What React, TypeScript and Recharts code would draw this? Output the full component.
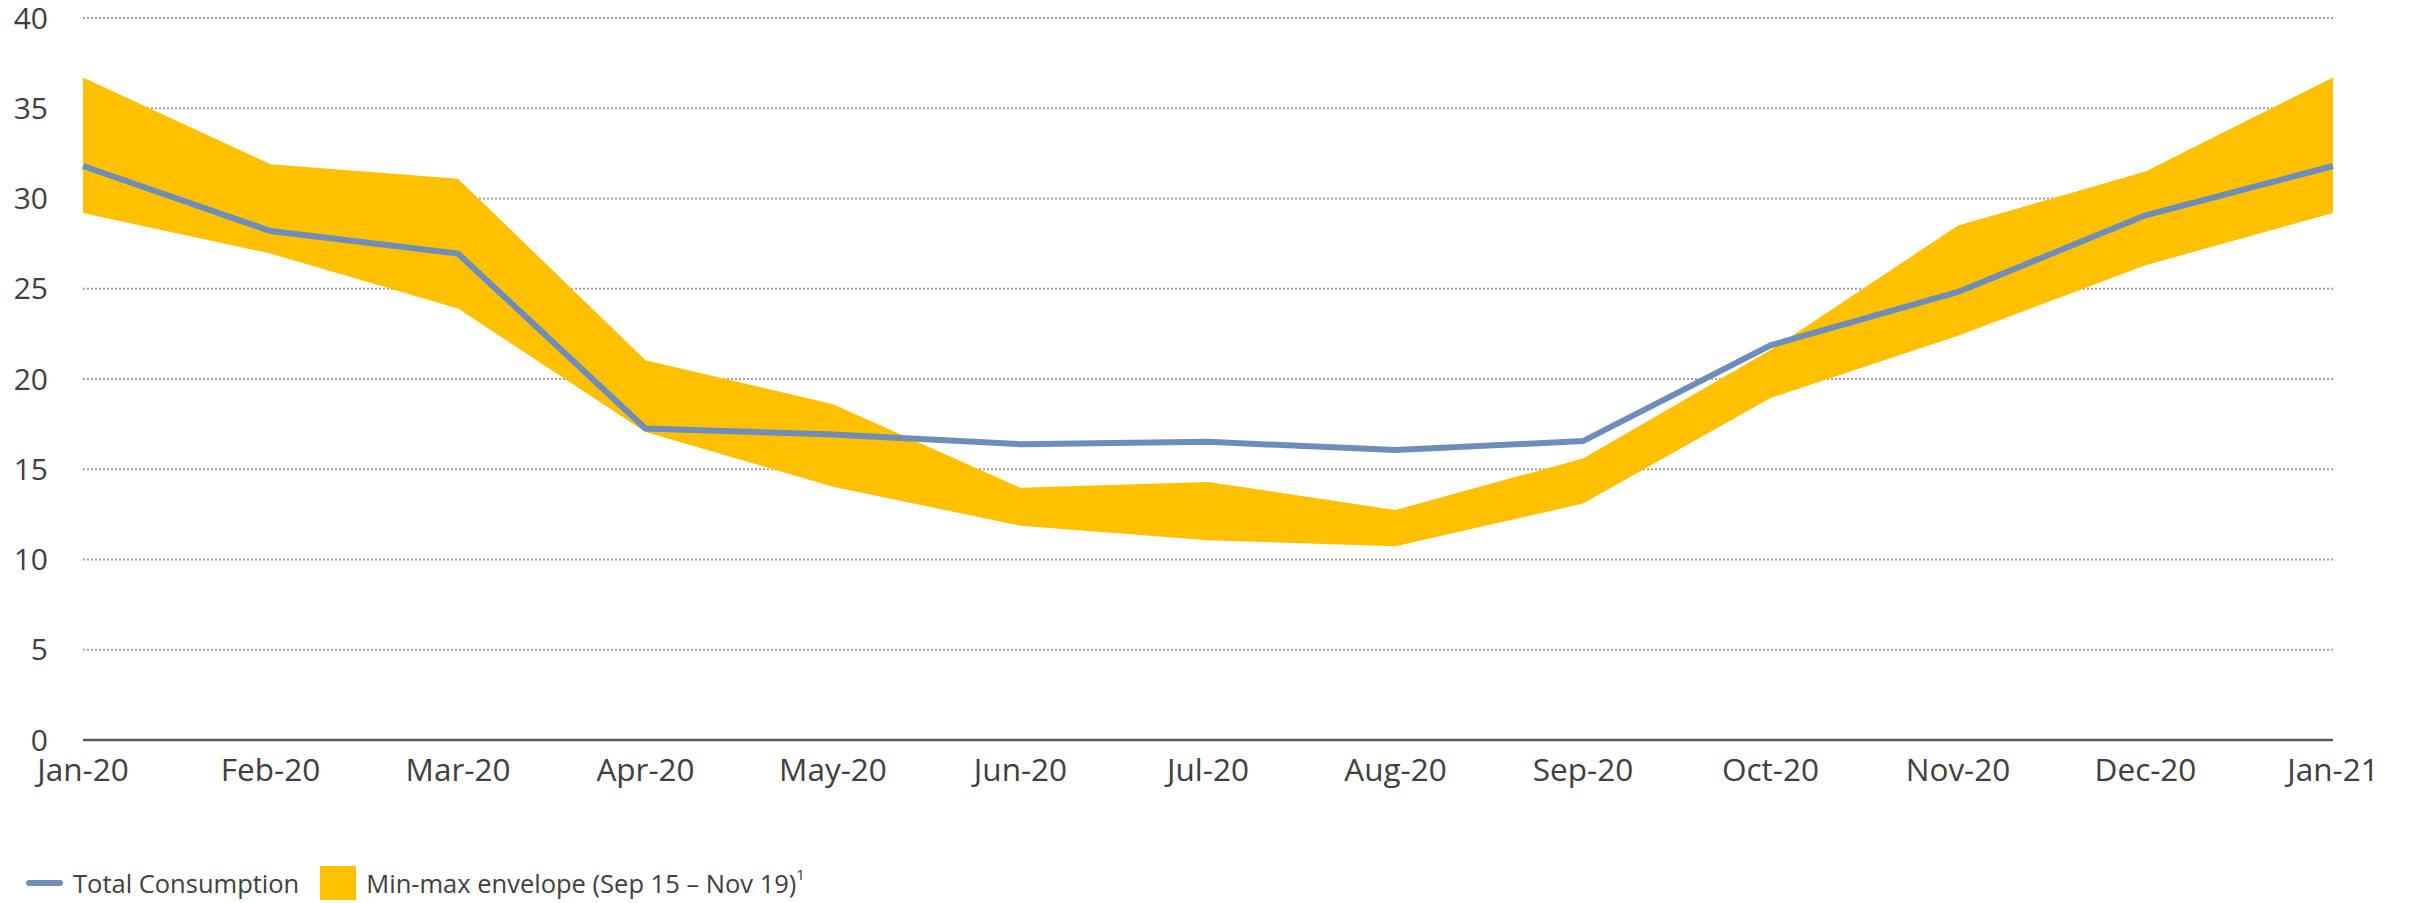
import React from 'react';
import { ComposedChart, Area, Line, XAxis, YAxis, CartesianGrid, Legend } from 'recharts';

const months = ['Jan-20', 'Feb-20', 'Mar-20', 'Apr-20', 'May-20', 'Jun-20', 'Jul-20', 'Aug-20', 'Sep-20', 'Oct-20', 'Nov-20', 'Dec-20', 'Jan-21'];
const totalConsumption = [31.8, 28.2, 26.95, 17.26, 16.93, 16.39, 16.52, 16.06, 16.56, 21.87, 24.82, 29.07, 31.8];
const envelopeMax = [36.7, 31.9, 31.1, 21.04, 18.6, 13.97, 14.3, 12.74, 15.6, 21.6, 28.5, 31.5, 36.7];
const envelopeMin = [29.2, 26.95, 23.9, 17.07, 14.03, 11.87, 11.07, 10.74, 13.1, 18.95, 22.4, 26.3, 29.2];
const yTicks = [0, 5, 10, 15, 20, 25, 30, 35, 40];

const lineName = 'Total Consumption';
const bandName = 'Min-max envelope (Sep 15 \u2013 Nov 19)';

const data = months.map((m, i) => ({
  month: m,
  total: totalConsumption[i],
  range: [envelopeMin[i], envelopeMax[i]],
}));

const FONT = '"Open Sans", "Noto Sans", sans-serif';
const TEXT = '#404040';
const LINE = '#6F8DBA';
const BAND = '#FFC000';

const LegendContent = () => (
  <div style={{ display: 'flex', alignItems: 'center', fontFamily: FONT, fontSize: 25.5, color: TEXT, whiteSpace: 'nowrap' }}>
    <span style={{ display: 'inline-block', width: 37, height: 6, borderRadius: 3, background: LINE, marginLeft: 26, marginRight: 10 }} />
    <span>{lineName}</span>
    <span style={{ display: 'inline-block', width: 36, height: 34, background: BAND, marginLeft: 21, marginRight: 10 }} />
    <span>{bandName}<sup style={{ fontSize: 15, verticalAlign: 'top', position: 'relative', top: -2 }}>1</sup></span>
  </div>
);

export default function App() {
  return (
    <div style={{ position: 'absolute', left: 0, top: 0, width: 2409, height: 903, background: '#fff' }}>
      <ComposedChart
        width={2409}
        height={903}
        data={data}
        margin={{ top: 18, right: 76, left: 0, bottom: 113 }}
      >
        <Area
          type="linear"
          dataKey="range"
          name={bandName}
          fill={BAND}
          fillOpacity={1}
          stroke="none"
          isAnimationActive={false}
          activeDot={false}
        />
        <CartesianGrid
          vertical={false}
          stroke="#A0A0A0"
          strokeWidth={2}
          strokeDasharray="2 2"
        />
        <XAxis
          dataKey="month"
          scale="point"
          height={50}
          tickLine={false}
          tickSize={0}
          tickMargin={19}
          axisLine={{ stroke: '#595959', strokeWidth: 2.5 }}
          tick={{ fill: TEXT, fontSize: 31.5, fontFamily: FONT }}
          interval={0}
        />
        <YAxis
          domain={[0, 40]}
          ticks={yTicks}
          width={83}
          axisLine={false}
          tickLine={false}
          tickSize={0}
          tickMargin={35}
          tick={{ fill: TEXT, fontSize: 30, fontFamily: FONT }}
          interval={0}
        />
        <Line
          type="linear"
          dataKey="total"
          name={lineName}
          stroke={LINE}
          strokeWidth={6}
          dot={false}
          activeDot={false}
          isAnimationActive={false}
        />
        <Legend
          layout="horizontal"
          verticalAlign="middle"
          align="center"
          content={<LegendContent />}
          wrapperStyle={{ position: 'absolute', left: 0, top: 866, width: 1200 }}
        />
      </ComposedChart>
    </div>
  );
}
